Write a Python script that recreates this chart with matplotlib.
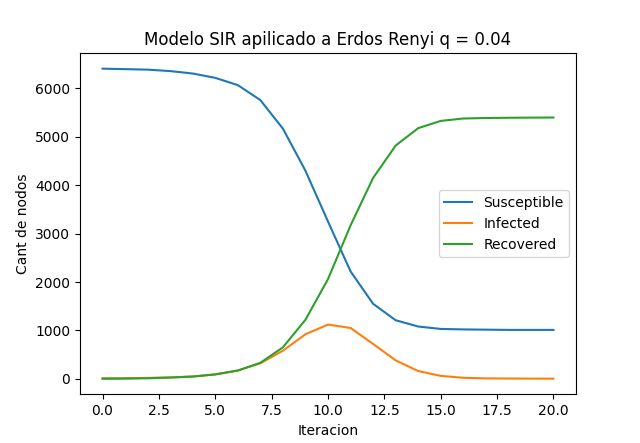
import matplotlib
matplotlib.use("Agg")
from matplotlib import pyplot as plt

iteraciones = list(range(21))
susceptible = [6410, 6400, 6390, 6360, 6310, 6220, 6070, 5760, 5170, 4300, 3250,
               2220, 1550, 1210, 1080, 1030, 1020, 1015, 1010, 1010, 1010]
infected = [10, 12, 18, 28, 48, 90, 170, 320, 580, 920, 1120,
            1050, 720, 380, 160, 60, 20, 8, 5, 3, 2]
recovered = [0, 3, 10, 25, 45, 90, 170, 330, 650, 1220, 2060,
             3170, 4150, 4820, 5180, 5330, 5380, 5390, 5395, 5398, 5400]

plt.figure(figsize=(6.4, 4.43), dpi=100)
plt.plot(iteraciones, susceptible, label="Susceptible")
plt.plot(iteraciones, infected, label="Infected")
plt.plot(iteraciones, recovered, label="Recovered")
plt.title("Modelo SIR apilicado a Erdos Renyi q = 0.04")
plt.xlabel("Iteracion")
plt.ylabel("Cant de nodos")
plt.legend(loc="center right")
plt.savefig("out.png")
